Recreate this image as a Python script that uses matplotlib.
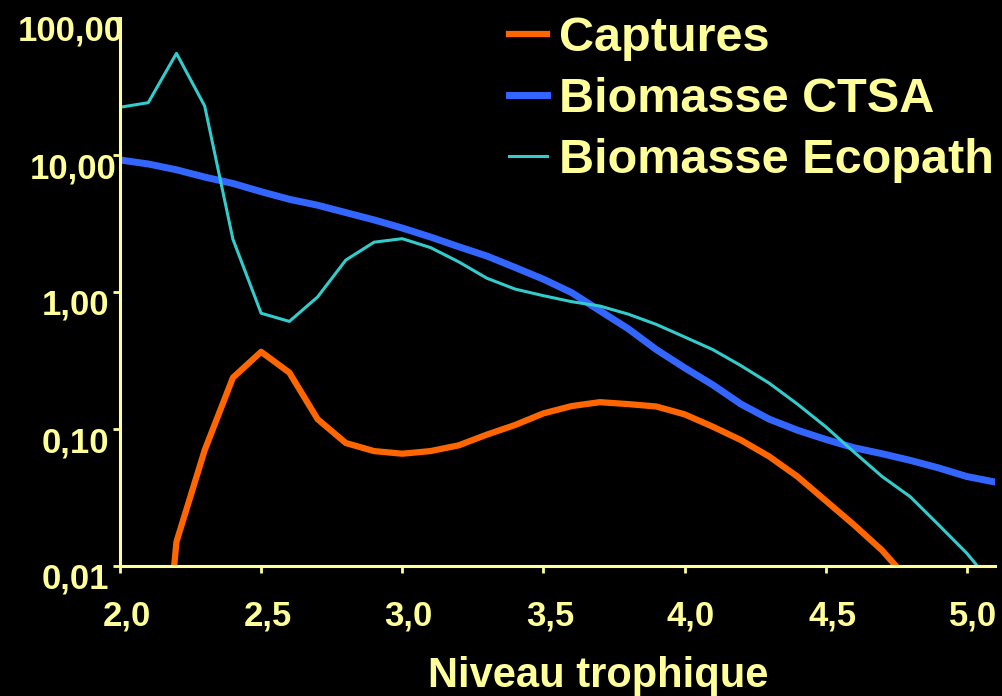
import matplotlib
matplotlib.use("Agg")
import matplotlib.pyplot as plt
import numpy as np
from matplotlib.transforms import ScaledTranslation

# trophic levels
niveau = [2.0, 2.1, 2.2, 2.3, 2.4, 2.5, 2.6, 2.7, 2.8, 2.9,
          3.0, 3.1, 3.2, 3.3, 3.4, 3.5, 3.6, 3.7, 3.8, 3.9,
          4.0, 4.1, 4.2, 4.3, 4.4, 4.5, 4.6, 4.7, 4.8, 4.9,
          5.0, 5.1]

captures = [np.nan, 0.0001, 0.015, 0.070, 0.237, 0.366, 0.258, 0.118, 0.079, 0.069,
            0.066, 0.069, 0.076, 0.091, 0.107, 0.130, 0.147, 0.157, 0.152, 0.146,
            0.128, 0.104, 0.083, 0.063, 0.045, 0.030, 0.020, 0.013, 0.0076, np.nan,
            np.nan, np.nan]

biomasse_ctsa = [9.2, 8.6, 7.8, 6.9, 6.2, 5.4, 4.75, 4.3, 3.8, 3.36,
                 2.93, 2.52, 2.14, 1.83, 1.51, 1.24, 0.99, 0.73, 0.54, 0.38,
                 0.28, 0.21, 0.152, 0.118, 0.098, 0.084, 0.073, 0.066, 0.059, 0.052,
                 0.045, 0.041]

biomasse_ecopath = [22.3, 24.1, 55.2, 22.8, 2.43, 0.70, 0.61, 0.92, 1.71, 2.31,
                    2.45, 2.11, 1.66, 1.26, 1.05, 0.94, 0.85, 0.79, 0.69, 0.58,
                    0.47, 0.38, 0.29, 0.216, 0.152, 0.104, 0.068, 0.045, 0.032, 0.020,
                    0.0124, 0.007]

yticks = [0.01, 0.1, 1, 10, 100]
ytick_labels = ["0,01", "0,10", "1,00", "10,00", "100,00"]
xticks = [2.0, 2.5, 3.0, 3.5, 4.0, 4.5, 5.0]
xtick_labels = ["2,0", "2,5", "3,0", "3,5", "4,0", "4,5", "5,0"]

FG = "#FFFF99"
plt.rcParams["font.family"] = ["Liberation Sans", "DejaVu Sans"]
plt.rcParams["font.weight"] = "bold"

fig = plt.figure(figsize=(10.03, 6.96), dpi=100, facecolor="black")
ax = fig.add_axes([120 / 1003, 130 / 696, 875 / 1003, 548 / 696], facecolor="black")

ax.plot(niveau, captures, color="#FF6600", lw=4.5, label="Captures")
ax.plot(niveau, biomasse_ctsa, color="#3366FF", lw=5.0, label="Biomasse CTSA")
ax.plot(niveau, biomasse_ecopath, color="#33CCCC", lw=2.2, label="Biomasse Ecopath")

ax.set_yscale("log")
ax.set_ylim(0.01, 100)
ax.set_xlim(2.0, 5.1)
ax.set_yticks(yticks)
ax.set_yticklabels(ytick_labels)
ax.yaxis.set_minor_locator(matplotlib.ticker.NullLocator())
ax.set_xticks(xticks)
ax.set_xticklabels(xtick_labels)

for side in ("top", "right"):
    ax.spines[side].set_visible(False)
for side in ("left", "bottom"):
    ax.spines[side].set_color(FG)
    ax.spines[side].set_linewidth(2.2)

ax.tick_params(axis="both", colors=FG, width=2.0, length=5, labelsize=25)
ax.tick_params(axis="x", pad=19)
ax.tick_params(axis="y", pad=3)

# shift tick labels a little, as in the original slide
for lab in ax.get_xticklabels():
    lab.set_transform(lab.get_transform() + ScaledTranslation(6.5 / 100, 0, fig.dpi_scale_trans))
y_shift = {"100,00": 15, "10,00": 8}
for lab in ax.get_yticklabels():
    dx = y_shift.get(lab.get_text(), 0)
    lab.set_transform(lab.get_transform() + ScaledTranslation(dx / 100, -10 / 100, fig.dpi_scale_trans))

ax.set_xlabel("Niveau trophique", fontsize=30, color=FG, fontweight="bold")
ax.xaxis.label.set_va("baseline")
ax.xaxis.set_label_coords(478 / 875, -121 / 548)

leg = ax.legend(loc="upper left", bbox_to_anchor=(509 / 1003, 1 - 16 / 696),
                bbox_transform=fig.transFigure, frameon=False, fontsize=35,
                borderpad=0, borderaxespad=0, handlelength=0.78, handletextpad=0.25,
                labelspacing=0.33)
for t in leg.get_texts():
    t.set_color(FG)

fig.savefig("out.png", dpi=100, facecolor="black")
